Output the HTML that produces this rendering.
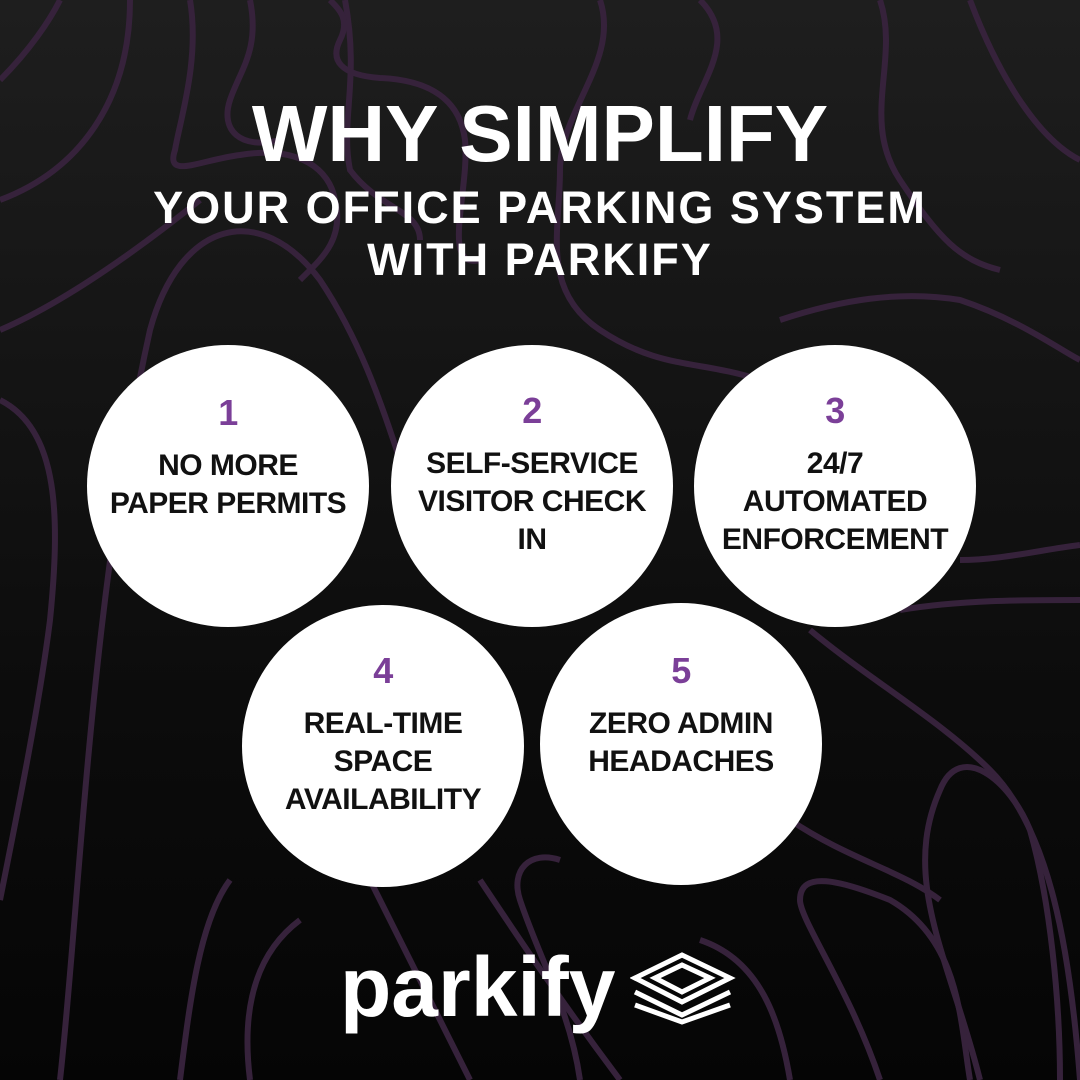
<!DOCTYPE html>
<html><head><meta charset="utf-8"><style>
html,body{margin:0;padding:0}
body{width:1080px;height:1080px;position:relative;overflow:hidden;background:linear-gradient(#1e1e1e,#0d0d0d 60%,#050505);font-family:"Liberation Sans",sans-serif}
svg.bg{position:absolute;left:0;top:0}
.t{position:absolute;left:0;width:1080px;text-align:center;color:#fff;font-weight:bold;letter-spacing:2px}
.c{position:absolute;width:282px;height:282px;border-radius:50%;background:#fff;text-align:center;color:#111;font-weight:bold;font-size:30px;line-height:38px;letter-spacing:-0.5px}
.c .n{color:#7b3f98;font-size:36px;line-height:40px;margin-bottom:14px}
</style></head><body>
<svg class="bg" width="1080" height="1080" fill="none" stroke="#36223b" stroke-width="6">
<path d="M0,200 C80,170 130,100 130,0"/>
<path d="M0,80 C30,50 50,20 60,0"/>
<path d="M190,0 C200,60 180,120 175,150 C165,180 200,160 240,155 C300,145 330,170 335,200 C345,240 320,260 300,280"/>
<path d="M250,0 C260,50 240,70 230,100 C220,130 240,150 280,140"/>
<path d="M345,0 C360,80 340,120 350,170 C380,210 420,210 420,240"/>
<path d="M0,330 C70,300 150,240 200,200"/>
<path d="M330,0 C340,10 350,20 340,40 C330,60 340,75 380,78 C430,80 460,100 465,140 C470,190 440,270 480,260"/>
<path d="M0,400 C60,430 60,520 50,620 C40,700 20,800 0,900"/>
<path d="M60,1080 C80,900 90,600 150,330 C180,220 260,200 320,280 C360,340 380,400 400,460"/>
<path d="M600,0 C620,60 560,110 560,170 C560,230 540,290 600,330 C660,370 700,360 760,380"/>
<path d="M700,0 C740,40 700,80 690,120"/>
<path d="M880,0 C900,60 860,120 900,180 C940,240 960,260 1000,270"/>
<path d="M970,0 C1000,80 1040,140 1080,160"/>
<path d="M780,320 C840,300 900,290 960,300 C1020,320 1060,350 1080,360"/>
<path d="M960,560 C1000,560 1040,550 1080,545"/>
<path d="M900,610 C960,600 1020,600 1080,600"/>
<path d="M810,630 C870,680 940,720 990,770 C1050,830 1070,950 1080,1080"/>
<path d="M980,1080 C950,960 900,880 940,790 C960,740 1010,780 1030,830 C1050,900 1060,1000 1060,1080"/>
<path d="M880,1080 C850,990 800,920 800,900 C800,870 840,880 890,900 C960,940 960,1020 970,1080"/>
<path d="M790,820 C850,860 900,870 940,900"/>
<path d="M560,860 C530,850 510,870 520,900 C540,960 570,1010 580,1080"/>
<path d="M480,880 C520,940 560,1000 620,1080"/>
<path d="M370,880 C400,940 430,1000 470,1080"/>
<path d="M250,1080 C240,1000 260,950 300,920"/>
<path d="M180,1080 C190,1000 200,920 230,880"/>
<path d="M700,940 C760,960 780,1020 790,1080"/>
</svg>
<div class="t" style="top:92px;font-size:80px;line-height:84px;letter-spacing:0px">WHY SIMPLIFY</div>
<div class="t" style="top:182px;font-size:45px;line-height:52px">YOUR OFFICE PARKING SYSTEM<br>WITH PARKIFY</div>

<div class="c" style="left:87px;top:345px"><div style="padding-top:48px"><div class="n">1</div>NO MORE<br>PAPER PERMITS</div></div>
<div class="c" style="left:391px;top:345px"><div style="padding-top:46px"><div class="n">2</div>SELF-SERVICE<br>VISITOR CHECK<br>IN</div></div>
<div class="c" style="left:694px;top:345px"><div style="padding-top:46px"><div class="n">3</div>24/7<br>AUTOMATED<br>ENFORCEMENT</div></div>
<div class="c" style="left:242px;top:605px"><div style="padding-top:46px"><div class="n">4</div>REAL-TIME<br>SPACE<br>AVAILABILITY</div></div>
<div class="c" style="left:540px;top:603px"><div style="padding-top:48px"><div class="n">5</div>ZERO ADMIN<br>HEADACHES</div></div>

<div style="position:absolute;left:340px;top:940px;color:#fff;font-weight:bold;font-size:84px;line-height:94px;letter-spacing:0px">parkify</div>
<svg style="position:absolute;left:630px;top:950px" width="110" height="75" fill="none" stroke="#fff" stroke-width="5">
<path d="M5,28 L52,5 L100,28 L52,52 Z"/>
<path d="M25,28 L52,15 L80,28 L52,42 Z"/>
<path d="M5,42 L52,65 L100,42"/>
<path d="M5,55 L52,72 L100,55"/>
</svg>
</body></html>
